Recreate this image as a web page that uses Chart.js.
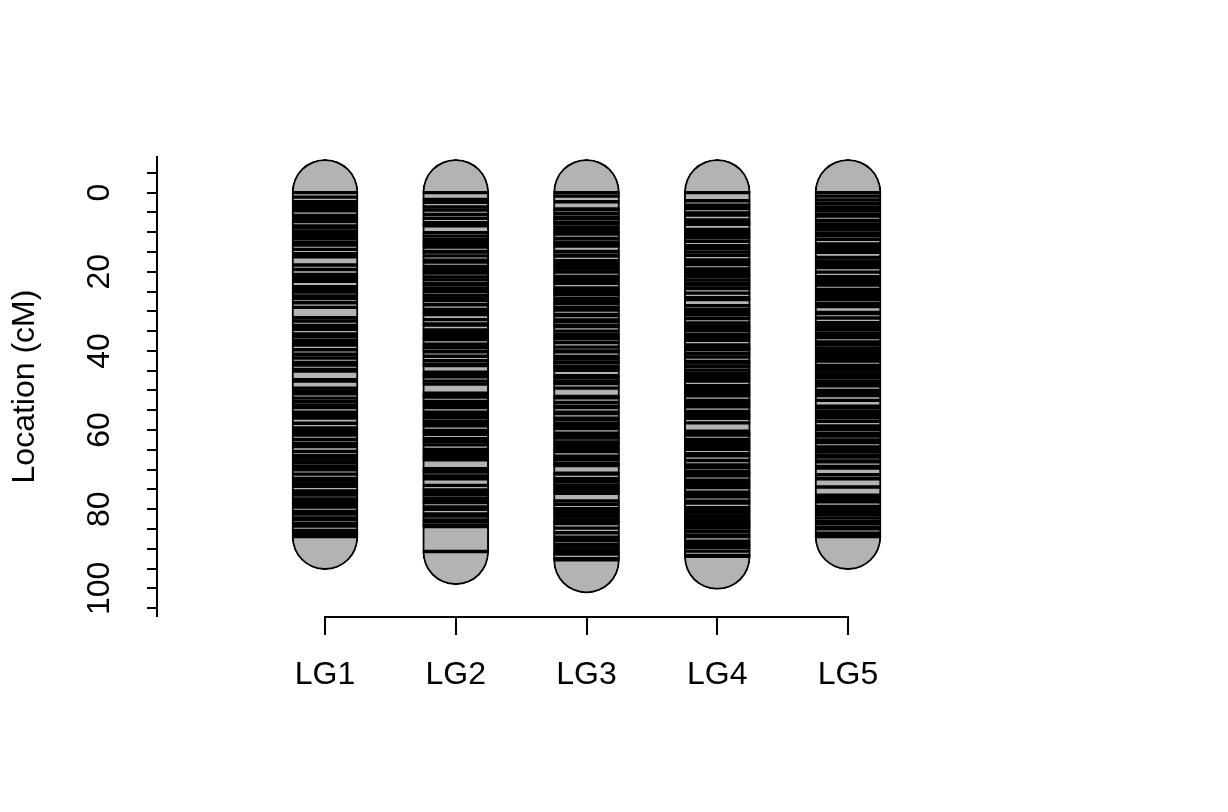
<!DOCTYPE html>
<html><head><meta charset="utf-8">
<script src="https://cdn.jsdelivr.net/npm/chart.js@4/dist/chart.umd.min.js"></script>
<style>html,body{margin:0;padding:0;background:#fff;}</style>
</head><body>
<canvas id="c" width="1228" height="812"></canvas>
<script>
const categories = ['LG1','LG2','LG3','LG4','LG5'];
const lg1 = [0,1.15,2.3,3.0,3.8,4.6,5.75,6.5,7.3,8.45,8.95,9.9,10.5,11.1,11.65,12.6,13.25,14.35,15.45,16.2,18.3,19.45,20.7,21.4,22.0,22.4,23.8,24.5,25.15,26.1,26.75,27.85,29.0,31.6,32.45,33.6,34.1,34.55,35.7,36.35,37.3,38.0,38.55,39.7,40.85,41.8,42.95,43.55,44.7,45.1,47.3,47.6,49.4,50.1,50.85,51.95,52.85,53.75,54.35,55.5,56.25,57.0,58.3,59.45,60.2,60.9,61.25,62.4,63.4,64.2,65.4,66.4,67.1,67.8,68.15,69.1,69.8,70.05,71.15,72.25,72.9,73.6,74.25,75.4,76.0,76.45,77.4,78.1,78.8,79.45,80.6,81.25,82.2,82.65,83.6,84.25,85.4,86.1,86.9];
const lg2 = [0,1.7,2.45,3.6,4.4,5.55,6.5,7.6,8.1,8.4,10.1,11.0,11.9,12.6,13.2,13.75,14.9,15.05,16.0,17.1,17.55,18.65,19.4,20.1,20.35,21.3,22.05,23.0,23.35,24.3,24.95,25.9,26.6,27.25,28.35,29.5,30.2,30.8,32.1,33.2,33.5,34.7,35.4,36.1,36.8,37.15,38.3,39.0,39.25,40.2,41.35,42.5,43.4,43.7,45.4,46.3,46.55,47.65,48.4,50.7,51.4,51.65,52.8,53.5,54.35,55.5,56.2,56.85,57.8,58.5,58.95,60.1,60.6,61.05,62.2,62.9,63.75,64.9,65.6,66.3,67.0,67.5,69.8,70.3,70.65,71.6,72.3,74.0,75.15,75.8,76.35,77.3,78.0,78.35,79.45,80.05,81.2,81.75,82.7,83.05,84.0,84.4,90.7];
const lg3 = [0,0.9,2.3,4.1,4.35,5.3,6.2,6.55,7.45,7.95,8.85,9.6,10.3,10.45,11.6,12.55,13.1,13.5,14.9,15.8,16.05,17.2,17.9,18.6,19.3,20.05,21.2,21.9,22.5,22.95,24.1,24.8,25.4,25.85,26.8,27.5,28.05,29.0,29.65,30.8,31.05,32.2,32.55,33.5,33.85,35.0,35.9,36.6,36.95,37.9,39.05,40.0,40.25,41.4,41.85,42.8,42.95,43.9,44.6,44.9,46.3,46.65,47.6,48.25,49.4,51.5,51.85,53.0,53.95,54.35,55.5,55.85,57.0,57.35,58.3,59.0,59.65,60.8,61.5,62.05,63.0,63.7,64.4,65.0,65.45,66.6,67.1,67.45,68.4,69.0,70.9,71.15,72.3,72.95,73.9,74.6,75.3,76.0,77.9,78.75,79.9,80.6,81.3,82.0,82.7,83.3,83.65,84.8,85.95,87.1,87.95,88.9,89.6,90.3,91.0,91.35,92.5,92.8];
const lg4 = [0,2.05,3.2,4.05,5.15,5.7,6.9,7.6,8.0,9.3,10.0,10.7,11.35,12.3,13.4,14.05,15.0,15.85,17.0,17.7,18.15,19.3,20.0,20.7,21.15,22.1,22.95,23.35,24.25,25.4,26.55,27.0,28.6,29.6,30.3,30.85,31.8,32.95,33.7,34.4,34.95,35.9,36.6,37.35,38.5,39.2,39.75,40.7,41.55,42.7,43.05,43.95,44.85,45.7,46.55,47.1,47.65,48.8,49.5,50.2,50.9,51.35,52.5,53.2,53.8,54.15,55.3,56.0,56.5,57.05,58.2,60.3,60.9,61.25,62.4,63.1,63.8,64.4,64.85,66.0,66.5,67.7,68.85,69.45,70.4,71.0,71.55,72.7,73.4,74.0,74.55,75.7,76.3,76.85,78.0,78.45,79.6,80.3,81.0,81.7,82.4,83.1,83.7,84.2,84.75,85.7,86.65,86.95,88.1,88.8,89.3,89.65,90.6,91.7,91.9];
const lg5 = [0,0.9,1.85,2.8,3.7,4.2,4.65,5.6,5.95,7.05,7.9,8.6,9.25,10.2,10.85,11.8,12.95,13.7,14.4,15.1,16.4,17.25,17.9,18.5,18.95,20.1,21.25,22.0,22.7,23.35,24.5,25.2,25.9,26.5,27.05,28.0,28.8,30.3,30.55,31.7,32.85,33.5,34.1,34.65,35.55,36.35,36.65,37.75,38.45,39.35,40.0,40.7,41.4,42.0,42.55,43.7,44.4,45.1,45.8,46.35,46.85,47.8,48.4,48.85,50.0,50.7,51.3,52.5,54.0,54.25,55.15,55.8,56.4,56.85,57.8,58.95,59.5,59.95,60.9,61.55,62.5,63.15,64.3,64.9,65.35,66.3,66.85,67.8,68.05,69.2,69.6,71.3,72.3,74.4,76.5,77.2,77.8,78.15,79.3,80.0,80.7,81.35,82.25,83.15,83.65,84.55,84.95,86.05,86.5,86.9];
const markerSets = [lg1, lg2, lg3, lg4, lg5];
const yLabelTicks = [0, 20, 40, 60, 80, 100];
const capCM = 8.4;
const axisLabel = 'Location (cM)';

const FONT = "'Liberation Sans', Arial, Helvetica, sans-serif";
const barData = markerSets.map((arr, i) => ({x: i + 1, y: [Math.min(...arr) - capCM, Math.max(...arr) + capCM]}));
const markerData = [];
markerSets.forEach((arr, i) => arr.forEach(v => markerData.push({x: i + 1, y: v})));

const xAxisLine = {
  id: 'xAxisLine',
  afterDraw(chart) {
    const {ctx, scales: {x}} = chart;
    ctx.save();
    ctx.strokeStyle = '#000';
    ctx.lineWidth = 2;
    ctx.beginPath();
    const y = Math.round(x.top) + 1;
    ctx.moveTo(x.getPixelForValue(1) - 1, y);
    ctx.lineTo(x.getPixelForValue(categories.length) + 1, y);
    ctx.stroke();
    ctx.restore();
  }
};

new Chart(document.getElementById('c'), {
  type: 'bar',
  data: {
    datasets: [
      {
        type: 'scatter',
        data: markerData,
        order: 1,
        pointStyle: 'line',
        pointRadius: 33,
        pointHoverRadius: 33,
        borderColor: '#000',
        borderWidth: 3.4,
        pointBorderWidth: 3.4,
        showLine: false
      },
      {
        type: 'bar',
        data: barData,
        order: 2,
        backgroundColor: '#B3B3B3',
        borderColor: '#000',
        borderWidth: 2,
        borderSkipped: false,
        borderRadius: {topLeft: 33, topRight: 33, bottomLeft: 33, bottomRight: 33},
        barThickness: 66
      }
    ]
  },
  options: {
    responsive: false,
    animation: false,
    events: [],
    layout: {padding: {top: 157, right: 211, bottom: 0, left: 0}},
    plugins: {legend: {display: false}, tooltip: {enabled: false}},
    scales: {
      x: {
        type: 'linear',
        offset: false,
        min: -0.285,
        max: 6.2925,
        afterBuildTicks: s => { s.ticks = categories.map((c, i) => ({value: i + 1})); },
        afterFit: s => { s.height = 196; },
        ticks: {
          callback: v => categories[Math.round(v) - 1] || '',
          font: {family: FONT, size: 32},
          color: '#000',
          padding: 21,
          autoSkip: false,
          maxRotation: 0,
          minRotation: 0
        },
        grid: {display: true, offset: false, drawOnChartArea: false, drawTicks: true, tickLength: 19, color: '#000', lineWidth: 2},
        border: {display: false}
      },
      y: {
        type: 'linear',
        reverse: true,
        min: -9,
        max: 107,
        afterFit: s => { s.width = 157; },
        ticks: {
          stepSize: 5,
          includeBounds: false,
          autoSkip: false,
          callback: v => yLabelTicks.includes(v) ? String(v) : '',
          minRotation: 90,
          maxRotation: 90,
          crossAlign: 'center',
          padding: 20,
          font: {family: FONT, size: 32},
          color: '#000'
        },
        grid: {display: true, drawOnChartArea: false, drawTicks: true, tickLength: 10, color: '#000', lineWidth: 2},
        border: {display: true, color: '#000', width: 2},
        title: {display: true, text: axisLabel, font: {family: FONT, size: 32}, color: '#000', padding: {top: 6, bottom: 0}}
      }
    }
  },
  plugins: [xAxisLine]
});
</script>
</body></html>
